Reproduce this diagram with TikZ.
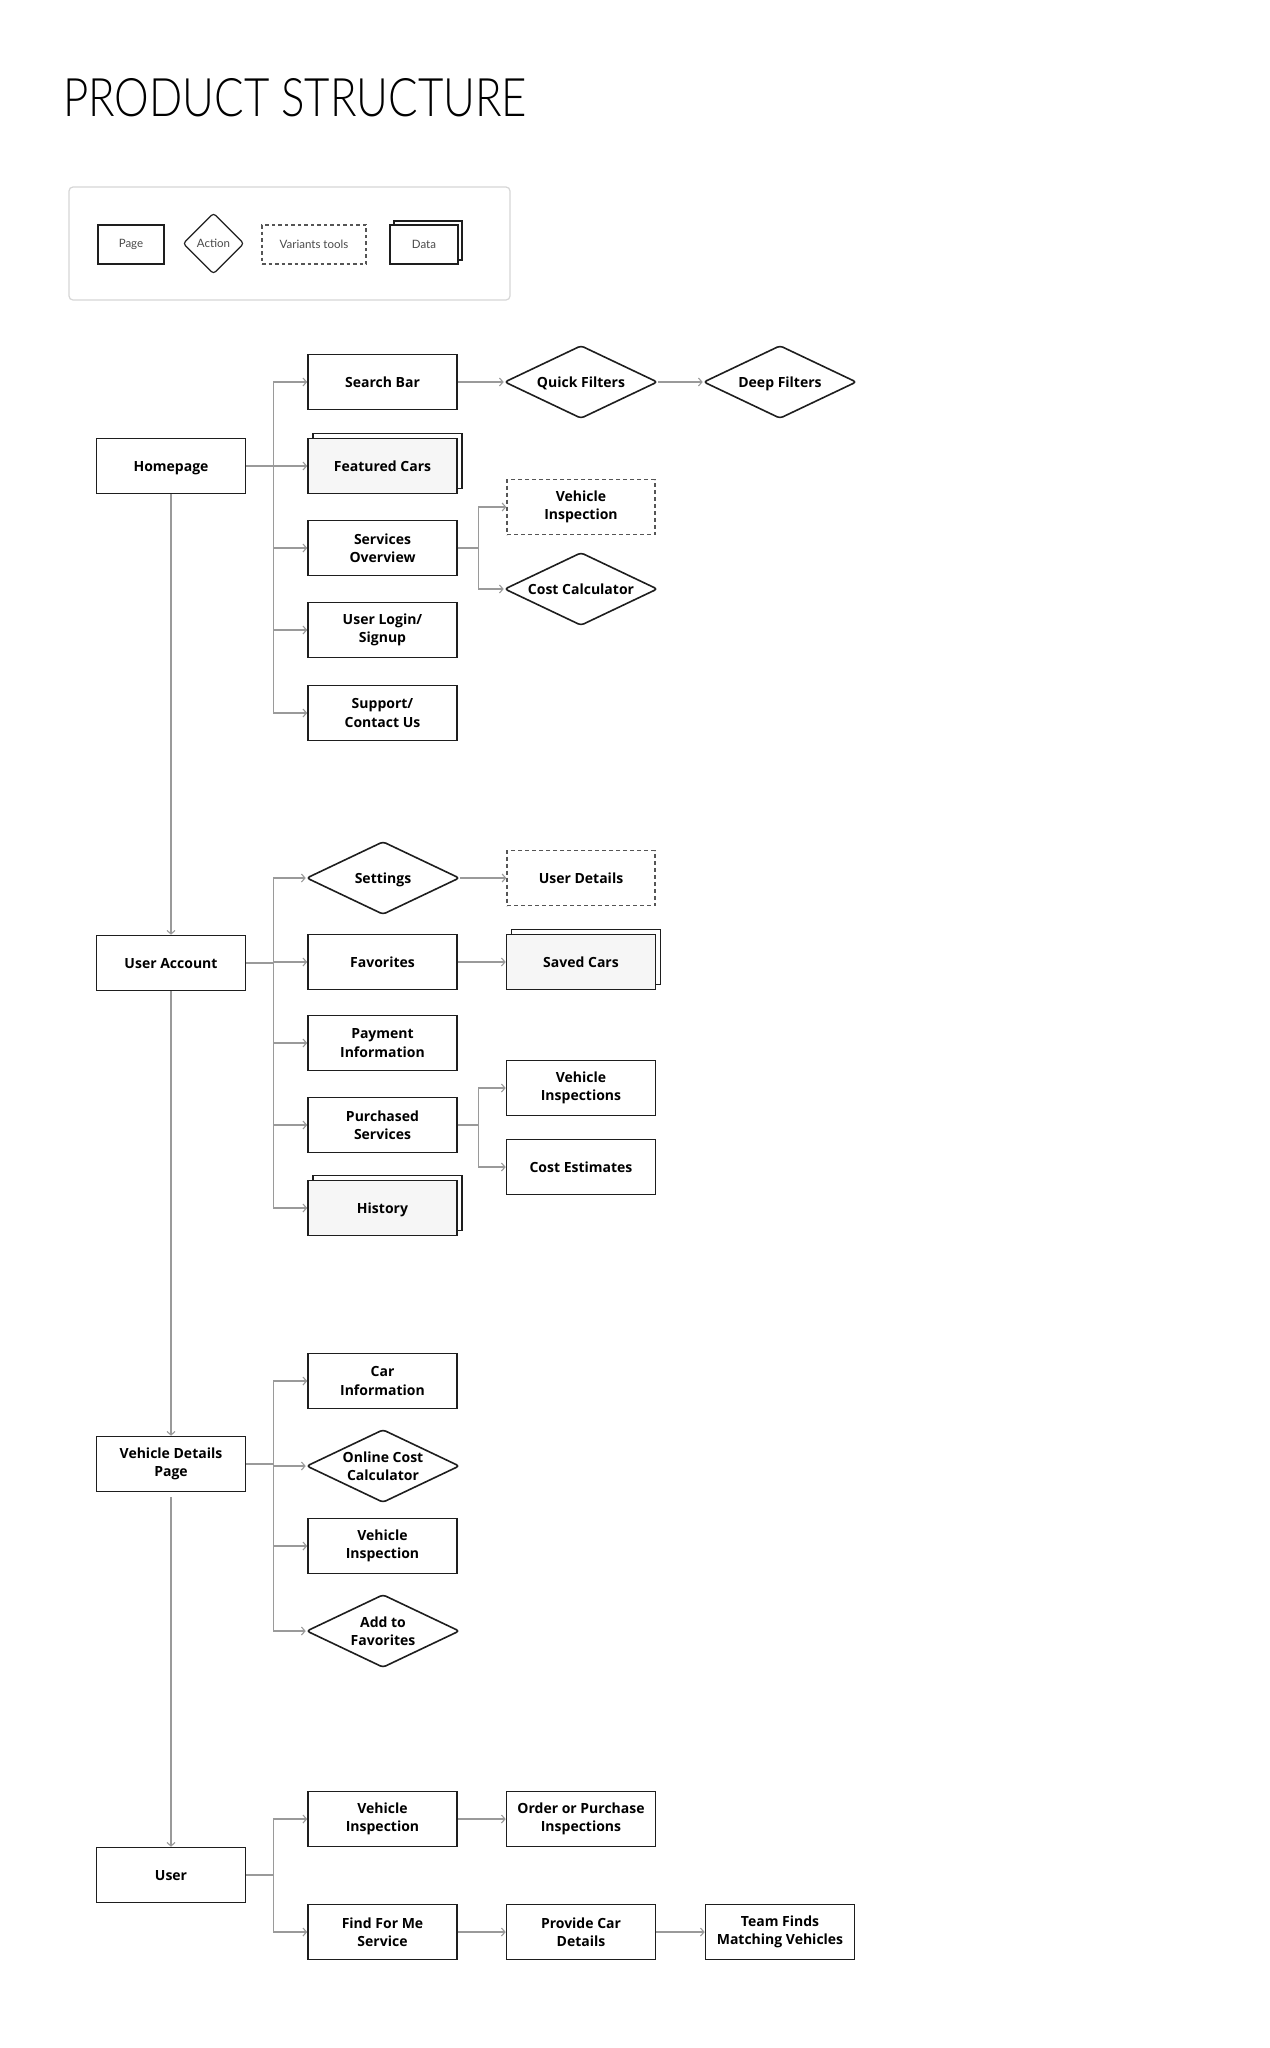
\documentclass[tikz,border=0pt]{standalone}
\usepackage{graphicx}
\usepackage{fontspec}
\setmainfont{Open Sans}
\newfontfamily\titlefont{Lato Light}
\newfontfamily\legendfont{Lato}
\usetikzlibrary{arrows.meta,shapes.geometric}
\definecolor{connc}{HTML}{9A9A9A}
\definecolor{boxline}{HTML}{1E1E1E}
\definecolor{datafill}{HTML}{F6F6F6}
\definecolor{legline}{HTML}{D6D6D6}
\definecolor{legtext}{HTML}{4A4A4A}
\definecolor{dashline}{HTML}{555555}
\newcommand\datanode[4]{% name, x, y, text
  \draw[boxline, line width=1.6pt, fill=white] (#2-74.5+5,#3-27.5-5) rectangle (#2+74.5+5,#3+27.5-5);
  \node[databox, oneline] (#1) at (#2,#3) {#4};
}
\begin{document}
\begin{tikzpicture}[x=1pt,y=-1pt,
  every node/.style={font=\fontsize{14}{18.5}\selectfont\bfseries, align=center, text=black},
  oneline/.style={text height=10.3pt, text depth=0.2pt},
  pagebox/.style={draw=boxline, line width=1.6pt, minimum width=149pt, minimum height=55pt, inner sep=0pt, fill=white},
  databox/.style={pagebox, fill=datafill},
  actbox/.style={draw=boxline, line width=1.6pt, diamond, aspect=2.1, minimum width=153pt, minimum height=73pt, inner sep=0pt, rounded corners=3pt, fill=white},
  varbox/.style={draw=dashline, line width=1.3pt, dash pattern=on 4pt off 3pt, minimum width=148pt, minimum height=55pt, inner sep=0pt},
  conn/.style={draw=connc, line width=1.1pt, -{Straight Barb[length=3.5pt,width=8pt]}},
  legtxt/.style={font=\fontsize{11.5}{13}\selectfont\legendfont, text=legtext},
]
\fill[white] (0,0) rectangle (1269,2048);
\useasboundingbox (0,0) rectangle (1269,2048);

% title
\node[anchor=north west, inner sep=0pt, font=\normalfont] (title) at (63,78) {\resizebox{464pt}{38pt}{\titlefont\mdseries PRODUCT STRUCTURE}};

% legend
\draw[legline, line width=1.2pt, rounded corners=4pt] (69,187) rectangle (510,300);
\node[legtxt, draw=boxline, line width=1.2pt, minimum width=66pt, minimum height=39pt, inner sep=0pt] (lgpage) at (131,244.5) {Page};
\node[legtxt, draw=boxline, line width=1.2pt, diamond, aspect=1, minimum width=61pt, minimum height=61pt, inner sep=0pt, rounded corners=3pt] (lgact) at (213.5,243.5) {Action};
\node[legtxt, draw=dashline, line width=1.1pt, dash pattern=on 3.5pt off 3pt, minimum width=104pt, minimum height=39pt, inner sep=0pt] (lgvar) at (314,244.5) {Variants tools};
\draw[boxline, line width=1.2pt, fill=white] (394,221) rectangle (462,260);
\node[legtxt, draw=boxline, line width=1.2pt, fill=white, minimum width=68pt, minimum height=39pt, inner sep=0pt] (lgdata) at (424,244.5) {Data};

% ---------- Homepage ----------
\node[pagebox, oneline] (home) at (171,466) {Homepage};
\node[pagebox, oneline] (sb) at (382.5,382) {Search Bar};
\datanode{fc}{382.5}{466}{Featured Cars}
\node[pagebox] (so) at (382.5,548) {Services\\Overview};
\node[pagebox] (ul) at (382.5,630) {User Login/\\Signup};
\node[pagebox] (sc) at (382.5,713) {Support/\\Contact Us};
\node[actbox, oneline] (qf) at (581,382) {Quick Filters};
\node[actbox, oneline] (df) at (780,382) {Deep Filters};
\node[varbox] (vi1) at (581,507) {Vehicle\\Inspection};
\node[actbox, oneline] (cc) at (581,589) {Cost Calculator};

\foreach \c in {sb,fc,so,ul,sc}{\draw[conn] (home.east) -- ++(27,0) |- (\c.west);}
\draw[conn] (sb.east) -- (qf.west);
\draw[conn] (qf.east) -- (df.west);
\foreach \c in {vi1,cc}{\draw[conn] (so.east) -- ++(21,0) |- (\c.west);}

% ---------- User Account ----------
\node[pagebox, oneline] (ua) at (171,963) {User Account};
\node[actbox, oneline] (set) at (383,878) {Settings};
\node[varbox, oneline] (ud) at (581,878) {User Details};
\node[pagebox, oneline] (fav) at (382.5,962) {Favorites};
\datanode{saved}{581}{962}{Saved Cars}
\node[pagebox] (pay) at (382.5,1043) {Payment\\Information};
\node[pagebox] (ps) at (382.5,1125) {Purchased\\Services};
\node[pagebox] (vis) at (581,1088) {Vehicle\\Inspections};
\node[pagebox, oneline] (ce) at (581,1167) {Cost Estimates};
\datanode{hist}{382.5}{1208}{History}

\foreach \c in {set,fav,pay,ps,hist}{\draw[conn] (ua.east) -- ++(27,0) |- (\c.west);}
\draw[conn] (set.east) -- (ud.west);
\draw[conn] (fav.east) -- (saved.west);
\foreach \c in {vis,ce}{\draw[conn] (ps.east) -- ++(21,0) |- (\c.west);}

% ---------- Vehicle Details ----------
\node[pagebox] (vd) at (171,1464) {Vehicle Details\\Page};
\node[pagebox] (ci) at (382.5,1381) {Car\\Information};
\node[actbox] (occ) at (383,1466) {Online Cost\\Calculator};
\node[pagebox] (vi2) at (382.5,1546) {Vehicle\\Inspection};
\node[actbox] (atf) at (383,1631) {Add to\\Favorites};
\foreach \c in {ci,occ,vi2,atf}{\draw[conn] (vd.east) -- ++(27,0) |- (\c.west);}

% ---------- User ----------
\node[pagebox, oneline] (user) at (171,1875) {User};
\node[pagebox] (vi3) at (382.5,1819) {Vehicle\\Inspection};
\node[pagebox] (opi) at (581,1819) {Order or Purchase\\Inspections};
\node[pagebox] (ffm) at (382.5,1932) {Find For Me\\Service};
\node[pagebox] (pcd) at (581,1932) {Provide Car\\Details};
\node[pagebox] (tfm) at (780,1932) {Team Finds\\Matching Vehicles};
\foreach \c in {vi3,ffm}{\draw[conn] (user.east) -- ++(27,0) |- (\c.west);}
\draw[conn] (vi3.east) -- (opi.west);
\draw[conn] (ffm.east) -- (pcd.west);
\draw[conn] (pcd.east) -- (tfm.west);

% ---------- main spine ----------
\draw[conn] (home.south) -- (ua.north);
\draw[conn] (ua.south) -- (vd.north);
\draw[conn] ([yshift=-5pt]vd.south) -- (user.north);
\end{tikzpicture}
\end{document}
